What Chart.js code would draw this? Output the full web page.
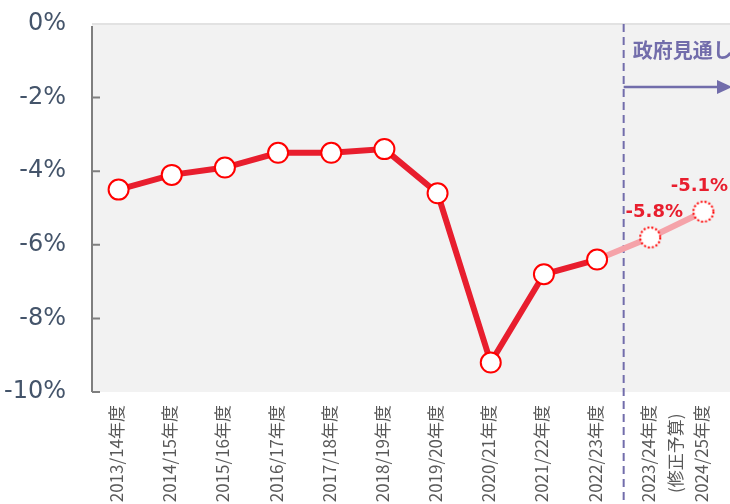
<!DOCTYPE html>
<html>
<head>
<meta charset="utf-8">
<script src="https://cdn.jsdelivr.net/npm/chart.js@4.4.1/dist/chart.umd.min.js"></script>
<style>
  html, body { margin: 0; padding: 0; background: #fff; overflow: hidden; }
  #wrap { width: 730px; height: 504px; position: relative; }
</style>
</head>
<body>
<div id="wrap"><canvas id="lineChart" width="730" height="504"></canvas></div>
<script>
// fiscal years
var years = [
	"2013/14年度", "2014/15年度", "2015/16年度", "2016/17年度", "2017/18年度", "2018/19年度",
	"2019/20年度", "2020/21年度", "2021/22年度", "2022/23年度", ["2023/24年度", "(修正予算)\u2002"], "2024/25年度"
];
// actual balance (% of GDP)
var actual = [-4.5, -4.1, -3.9, -3.5, -3.5, -3.4, -4.6, -9.2, -6.8, -6.4, null, null];
// government outlook, starts from last actual year
var outlook = [null, null, null, null, null, null, null, null, null, -6.4, -5.8, -5.1];
var outlookLabels = [null, null, null, null, null, null, null, null, null, null, "-5.8%", "-5.1%"];
var yTicks = [0, -2, -4, -6, -8, -10];

var red = "#e81e2e";
var purple = "#726dab";

// dotted white circle used as point style for the outlook years
var dotted = document.createElement("canvas");
dotted.width = 26;
dotted.height = 26;
var dc = dotted.getContext("2d");
dc.beginPath();
dc.arc(13, 13, 10, 0, Math.PI * 2);
dc.fillStyle = "#fff";
dc.fill();
dc.setLineDash([2, 2]);
dc.lineWidth = 2;
dc.strokeStyle = "#ff0000";
dc.stroke();

var decor = {
	id: "decor",
	beforeDraw: function (chart) {
		var c = chart.ctx, a = chart.chartArea;
		c.save();
		c.fillStyle = "#f2f2f2";
		c.fillRect(a.left, a.top, chart.width - a.left, a.bottom - a.top);
		c.fillStyle = "#e2e2e2";
		c.fillRect(a.left, a.top - 1, chart.width - a.left, 2);
		c.restore();
	},
	beforeDatasetsDraw: function (chart) {
		var c = chart.ctx, a = chart.chartArea;
		var x = chart.scales.x;
		var y = chart.scales.y;
		c.save();
		// y axis + inner ticks
		c.strokeStyle = "#7f7f7f";
		c.lineWidth = 2;
		c.beginPath();
		c.moveTo(a.left, a.top + 2);
		c.lineTo(a.left, a.bottom);
		yTicks.forEach(function (v) {
			if (v === 0) return;
			var py = y.getPixelForValue(v);
			c.moveTo(a.left, py);
			c.lineTo(a.left + 8, py);
		});
		c.stroke();

		// split line between actual and outlook
		var sx = (x.getPixelForValue(9) + x.getPixelForValue(10)) / 2;
		c.strokeStyle = purple;
		c.lineWidth = 2;
		c.setLineDash([8, 5]);
		c.beginPath();
		c.moveTo(sx, a.top);
		c.lineTo(sx, chart.height);
		c.stroke();
		c.setLineDash([]);

		// arrow
		var ay = 87;
		c.lineWidth = 2.5;
		c.beginPath();
		c.moveTo(sx, ay);
		c.lineTo(chart.width - 12, ay);
		c.stroke();
		c.fillStyle = purple;
		c.beginPath();
		c.moveTo(chart.width - 13, ay - 7);
		c.lineTo(chart.width + 2, ay);
		c.lineTo(chart.width - 13, ay + 7);
		c.closePath();
		c.fill();

		c.font = "bold 20px 'Noto Sans CJK JP'";
		c.textBaseline = "middle";
		c.textAlign = "left";
		c.fillText("政府見通し", sx + 9, 50);
		c.restore();
	},
	afterDatasetsDraw: function (chart) {
		var c = chart.ctx;
		var meta = chart.getDatasetMeta(1);
		c.save();
		c.font = "bold 18px 'DejaVu Sans'";
		c.fillStyle = red;
		c.textAlign = "center";
		c.textBaseline = "middle";
		outlookLabels.forEach(function (t, i) {
			if (!t) return;
			var p = meta.data[i];
			c.fillText(t, p.x - 4 + (i === 10 ? 8 : 0), p.y - 25);
		});
		c.restore();
	}
};

var chart = new Chart(document.getElementById("lineChart"), {
	type: "line",
	data: {
		labels: years,
		datasets: [{
				label: "実績",
				data: actual,
				borderColor: red,
				borderWidth: 6,
				backgroundColor: "#fff",
				pointBackgroundColor: "#fff",
				pointBorderColor: "#ff0000",
				pointBorderWidth: 2,
				pointRadius: 10,
				fill: false,
				lineTension: 0,
				order: 1
			},
			{
				label: "政府見通し",
				data: outlook,
				borderColor: "#f5a3a9",
				borderWidth: 6,
				pointStyle: dotted,
				pointRadius: [0, 0, 0, 0, 0, 0, 0, 0, 0, 0, 10, 10],
				fill: false,
				lineTension: 0,
				order: 2
			}
		]
	},
	options: {
		responsive: false,
		animation: false,
		events: [],
		layout: { autoPadding: false, padding: { top: 24, right: 0, left: 0, bottom: 0 } },
		plugins: { legend: { display: false }, tooltip: { enabled: false } },
		scales: {
			x: {
				offset: true,
				grid: { display: false, drawTicks: false },
				border: { display: false },
				ticks: {
					autoSkip: false,
					minRotation: 90,
					maxRotation: 90,
					padding: 13,
					labelOffset: -2,
					color: "#595959",
					font: { family: "'Noto Sans CJK JP'", size: 17, lineHeight: 1.6 }
				},
				afterFit: function (s) {
					s.height = 112;
					s.paddingLeft = 0;
					s.paddingRight = 0;
				}
			},
			y: {
				min: -10,
				max: 0,
				grid: { display: false, drawTicks: false },
				border: { display: false },
				ticks: {
					stepSize: 2,
					padding: 26,
					color: "#44546a",
					font: { family: "'DejaVu Sans'", size: 24 },
					callback: function (v) { return v + "%"; }
				},
				afterFit: function (s) {
					s.width = 92;
					s.paddingTop = 0;
					s.paddingBottom = 0;
				}
			}
		}
	},
	plugins: [decor]
});
</script>
</body>
</html>
